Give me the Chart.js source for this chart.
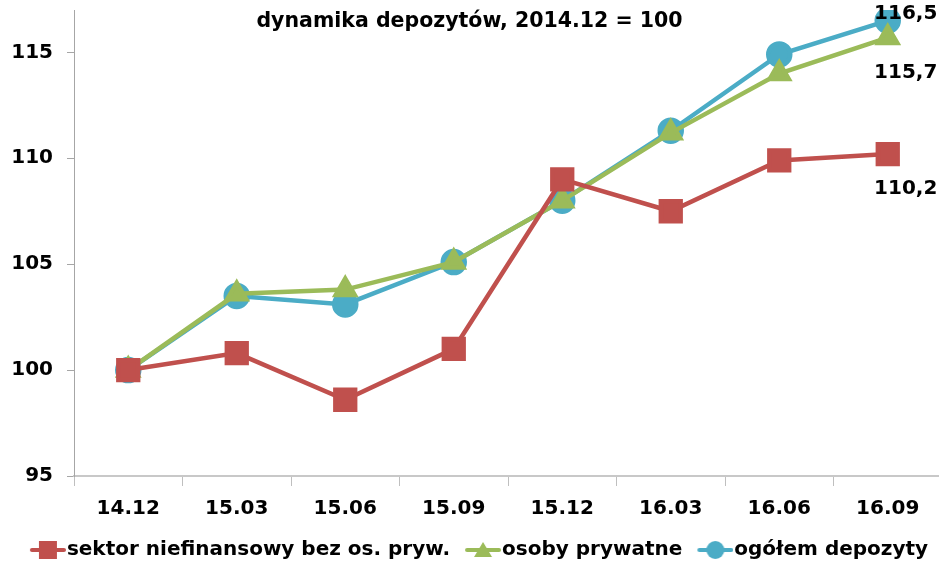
<!DOCTYPE html>
<html>
<head>
<meta charset="utf-8">
<script src="https://cdn.jsdelivr.net/npm/chart.js@4.4.1/dist/chart.umd.min.js"></script>
<style>
  html, body { margin: 0; padding: 0; background: #fff; }
  #wrap { width: 939px; height: 562px; }
</style>
</head>
<body>
<div id="wrap"><canvas id="myChart"></canvas></div>
<script>
// dane: dynamika depozytow, 2014.12 = 100
var kwartaly = ['14.12', '15.03', '15.06', '15.09', '15.12', '16.03', '16.06', '16.09'];
var sektorNiefin = [100, 100.8, 98.6, 101.0, 109.0, 107.5, 109.9, 110.2];
var osobyPryw = [100, 103.6, 103.8, 105.1, 108.0, 111.2, 114.0, 115.7];
var ogolemDep = [100, 103.5, 103.1, 105.1, 108.0, 111.3, 114.9, 116.5];
var yTicks = [95, 100, 105, 110, 115];

var FONT = '"DejaVu Sans", Verdana, sans-serif';
var RED = '#C0504D';
var GREEN = '#9BBB59';
var BLUE = '#4BACC6';
var LW = 4.5;

// ikonka do legendy: linia + znacznik (z pustym miejscem z lewej = odstep)
var ICON_W = 57;
function legendIcon(color, style) {
  var c = document.createElement('canvas');
  c.width = ICON_W; c.height = 20;
  var g = c.getContext('2d');
  var x0 = ICON_W - 36;
  g.strokeStyle = color;
  g.lineWidth = 4;
  g.lineCap = 'round';
  g.beginPath(); g.moveTo(x0 + 2, 10); g.lineTo(x0 + 34, 10); g.stroke();
  g.fillStyle = color;
  g.beginPath();
  if (style == 'rect') {
    g.rect(x0 + 9, 1, 18, 18);
  } else if (style == 'circle') {
    g.arc(x0 + 18, 10, 9, 0, Math.PI * 2);
  } else {
    g.moveTo(x0 + 18, 2); g.lineTo(x0 + 27, 17); g.lineTo(x0 + 9, 17); g.closePath();
  }
  g.fill();
  return c;
}

// tytul wewnatrz obszaru wykresu
var titlePlugin = {
  id: 'titleInside',
  afterDraw: function (chart) {
    var ctx = chart.ctx;
    ctx.save();
    ctx.font = 'bold 20.5px ' + FONT;
    ctx.fillStyle = '#000';
    ctx.textAlign = 'center';
    ctx.textBaseline = 'middle';
    ctx.fillText('dynamika depozytów, 2014.12 = 100', chart.width / 2, 22);
    ctx.restore();
  }
};

// etykiety ostatnich wartosci
var lastLabels = {
  id: 'lastLabels',
  afterDatasetsDraw: function (chart) {
    var ctx = chart.ctx;
    ctx.save();
    ctx.font = 'bold 20px ' + FONT;
    ctx.fillStyle = '#000';
    ctx.textAlign = 'center';
    ctx.textBaseline = 'middle';
    chart.data.datasets.forEach(function (ds, i) {
      var meta = chart.getDatasetMeta(i);
      var n = ds.data.length - 1;
      var pt = meta.data[n];
      var txt = ds.data[n].toFixed(1).replace('.', ',');
      ctx.fillText(txt, pt.x + 18, pt.y + ds.labelDy);
    });
    ctx.restore();
  }
};

// os X troche dalej w prawo niz krawedz canvasu
var stretchX = {
  id: 'stretchX',
  afterLayout: function (chart) {
    var x = chart.scales.x;
    x.right = x.right + 3;
    x.width = x.right - x.left;
    x.configure();
  }
};

const ctx = document.getElementById('myChart');

var cfg = {
  type: 'line',
  data: {
    labels: kwartaly,
    datasets: [{
      label: 'sektor niefinansowy bez os. pryw.',
      data: sektorNiefin,
      borderColor: RED,
      backgroundColor: RED,
      borderWidth: LW,
      pointStyle: 'rect',
      pointRadius: 14,
      pointHoverRadius: 14,
      labelDy: 35,
      icon: legendIcon(RED, 'rect')
    }, {
      label: 'osoby prywatne',
      data: osobyPryw,
      borderColor: GREEN,
      backgroundColor: GREEN,
      borderWidth: LW,
      pointStyle: 'triangle',
      pointRadius: 11,
      pointHoverRadius: 11,
      labelDy: 35,
      icon: legendIcon(GREEN, 'triangle')
    }, {
      label: 'ogółem depozyty',
      data: ogolemDep,
      borderColor: BLUE,
      backgroundColor: BLUE,
      borderWidth: LW,
      pointStyle: 'circle',
      pointRadius: 11,
      pointHoverRadius: 11,
      labelDy: -7,
      icon: legendIcon(BLUE, 'circle')
    }]
  },
  options: {
    responsive: true,
    maintainAspectRatio: false,
    animation: false,
    layout: {
      autoPadding: false,
      padding: { top: 10, left: 7, right: 0, bottom: -8 }
    },
    elements: { line: { tension: 0 } },
    plugins: {
      tooltip: { enabled: false },
      title: { display: false },
      legend: {
        position: 'bottom',
        labels: {
          color: '#000',
          font: { family: FONT, size: 20, weight: 'bold' },
          usePointStyle: true,
          pointStyleWidth: ICON_W - 18,
          boxHeight: 20,
          padding: 3,
          generateLabels: function (chart) {
            return chart.data.datasets.map(function (ds, i) {
              return {
                text: ds.label,
                pointStyle: ds.icon,
                fillStyle: ds.borderColor,
                strokeStyle: ds.borderColor,
                lineWidth: 0,
                hidden: false,
                datasetIndex: i,
                fontColor: '#000'
              };
            });
          }
        }
      }
    },
    scales: {
      x: {
        offset: true,
        grid: {
          offset: true,
          drawOnChartArea: false,
          drawTicks: true,
          tickLength: 10,
          color: '#bfbfbf'
        },
        border: { color: '#c8c8c8', width: 2 },
        ticks: {
          color: '#000',
          font: { family: FONT, size: 20, weight: 'bold' },
          padding: 11,
          maxRotation: 0
        },
        afterFit: function (scale) {
          scale.height = 61;
          scale.paddingLeft = 0;
          scale.paddingRight = 0;
        }
      },
      y: {
        min: 95,
        max: 117,
        afterBuildTicks: function (scale) {
          scale.ticks = yTicks.map(function (v) { return { value: v }; });
        },
        grid: {
          drawOnChartArea: false,
          drawTicks: true,
          tickLength: 7,
          color: '#a6a6a6'
        },
        border: { color: '#a6a6a6', width: 1 },
        ticks: {
          color: '#000',
          font: { family: FONT, size: 20, weight: 'bold' },
          padding: 14
        },
        afterFit: function (scale) {
          scale.width = 67;
          scale.paddingTop = 0;
          scale.paddingBottom = 0;
        }
      }
    }
  },
  plugins: [titlePlugin, lastLabels, stretchX]
};

myChart1 = new Chart(ctx, cfg);
</script>
</body>
</html>
